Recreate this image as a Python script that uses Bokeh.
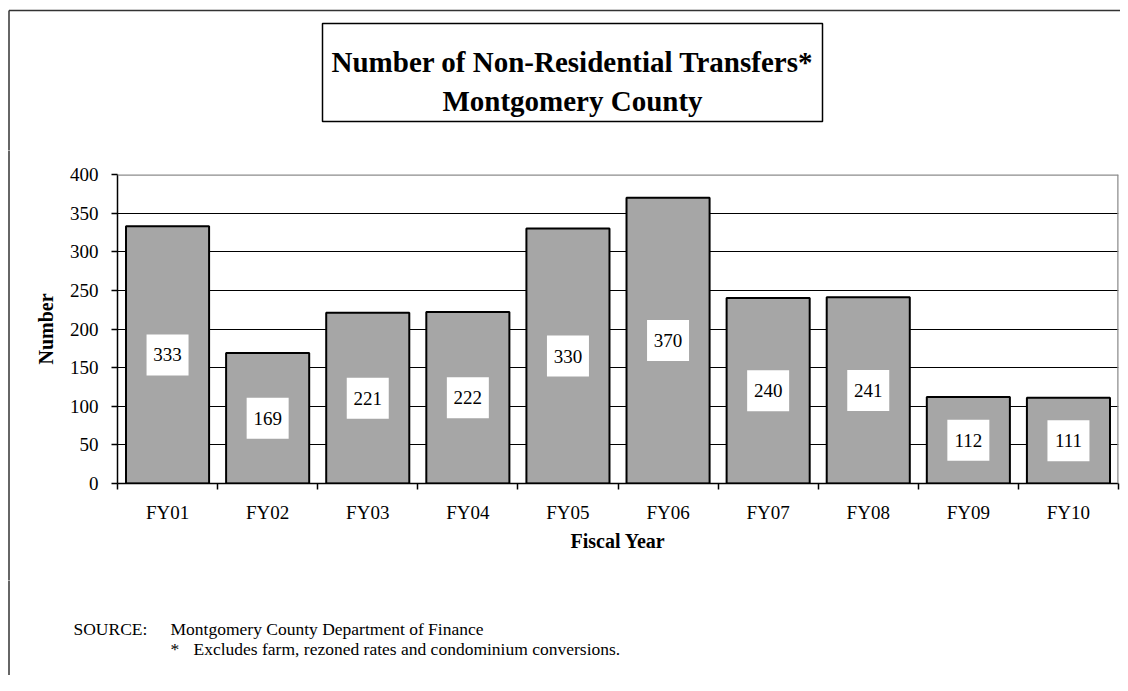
from bokeh.plotting import figure
from bokeh.layouts import row, column
from bokeh.models import Range1d, FixedTicker, Span, ColumnDataSource
from bokeh.embed import file_html
from bokeh.resources import INLINE
from bokeh.core.properties import value

# ---- data ----
categories = ["FY01", "FY02", "FY03", "FY04", "FY05", "FY06", "FY07", "FY08", "FY09", "FY10"]
transfers = [333, 169, 221, 222, 330, 370, 240, 241, 112, 111]
y_ticks = [0, 50, 100, 150, 200, 250, 300, 350, 400]
title_lines = ["Number of Non-Residential Transfers*", "Montgomery County"]
x_title = "Fiscal Year"
y_title = "Number"
source_label = "SOURCE:"
source_text = "Montgomery County Department of Finance"
foot_mark = "*"
foot_text = "Excludes farm, rezoned rates and condominium conversions."

# ---- layout constants (page pixels) ----
FONT = "Liberation Serif"
TOTAL_W, TOTAL_H = 1120, 675
STRIP_W = 20
TOP_H = 150
MAIN_H = 430
BOT_H = TOTAL_H - TOP_H - MAIN_H
FRAME_COLOR = "#333333"
FRAME_X, FRAME_Y = 8.5, 10
EXT = 6  # extend frame segments past panel edges so they join seamlessly


def blank(width, height, x0, x1, y0, y1):
    f = figure(width=width, height=height, x_range=Range1d(x0, x1), y_range=Range1d(y1, y0),
               x_axis_type=None, y_axis_type=None, output_backend="svg", toolbar_location=None,
               min_border=0, min_border_left=0, min_border_right=0, min_border_top=0,
               min_border_bottom=0, background_fill_color="white", border_fill_color="white")
    f.outline_line_color = None
    f.grid.visible = False
    return f


# ---- top: outer frame corner + title box ----
top = blank(TOTAL_W, TOP_H, 0, TOTAL_W, 0, TOP_H)
top.segment(x0=[FRAME_X, FRAME_X], y0=[FRAME_Y, FRAME_Y], x1=[TOTAL_W + EXT, FRAME_X],
            y1=[FRAME_Y, TOP_H + EXT], line_color=FRAME_COLOR, line_width=1.5)
top.quad(left=[322], right=[822], top=[23], bottom=[121], fill_color=None,
         line_color="black", line_width=1.5)
top.text(x=[572, 572], y=[61.5, 100], text=title_lines, text_align="center",
         text_baseline="alphabetic", text_font=value(FONT), text_font_style="bold",
         text_font_size="29px", text_color="black")

# ---- middle-left strip: outer frame left edge ----
strip = blank(STRIP_W, MAIN_H, 0, STRIP_W, TOP_H, TOP_H + MAIN_H)
strip.segment(x0=[FRAME_X], y0=[TOP_H - EXT], x1=[FRAME_X], y1=[TOP_H + MAIN_H + EXT],
              line_color=FRAME_COLOR, line_width=1.5)

# ---- main chart ----
FL, FR = 117 - STRIP_W, 2
FT = 174 - TOP_H
FB = MAIN_H - (483 - TOP_H)

centers = [i + 0.5 for i in range(len(categories))]
bounds = list(range(len(categories) + 1))
src = ColumnDataSource(dict(
    x=centers,
    top=transfers,
    mid=[v / 2 for v in transfers],
    label=[str(v) for v in transfers],
))

p = figure(width=TOTAL_W - STRIP_W, height=MAIN_H, x_range=Range1d(0, len(categories)),
           y_range=Range1d(y_ticks[0], y_ticks[-1]),
           output_backend="svg", toolbar_location=None,
           min_border_left=FL, min_border_top=FT, min_border_right=FR, min_border_bottom=FB,
           background_fill_color="white", border_fill_color="white")
p.outline_line_color = None
p.xgrid.visible = False
p.ygrid.ticker = FixedTicker(ticks=y_ticks)
p.ygrid.grid_line_color = "black"
p.ygrid.grid_line_width = 1

p.vbar(x="x", top="top", bottom=0, width=0.83, source=src,
       fill_color="#a6a6a6", line_color="black", line_width=2)
p.rect(x="x", y="mid", width=42, height=41, width_units="screen", height_units="screen",
       source=src, fill_color="white", line_color=None)
p.text(x="x", y="mid", text="label", source=src, text_align="center", text_baseline="middle",
       text_font=value(FONT), text_font_size="19px", text_color="black")

p.add_layout(Span(location=y_ticks[-1], dimension="width", line_color="#8c8c8c", line_width=2.5))
p.add_layout(Span(location=len(categories), dimension="height", line_color="#8c8c8c", line_width=2.5))

ya = p.yaxis[0]
ya.ticker = FixedTicker(ticks=y_ticks)
ya.axis_label = y_title
ya.axis_label_text_font = FONT
ya.axis_label_text_font_style = "bold"
ya.axis_label_text_font_size = "20px"
ya.axis_label_text_color = "black"
ya.axis_label_standoff = 10
ya.major_label_text_font = FONT
ya.major_label_text_font_size = "19px"
ya.major_label_text_color = "black"
ya.major_label_standoff = 13
ya.axis_line_color = "black"
ya.axis_line_width = 1.5
ya.major_tick_line_color = "black"
ya.major_tick_line_width = 1.5
ya.major_tick_out = 6
ya.major_tick_in = 0
ya.minor_tick_out = 0
ya.minor_tick_in = 0

xa = p.xaxis[0]
xa.ticker = FixedTicker(ticks=centers, minor_ticks=bounds)
xa.major_label_overrides = {c: cat for c, cat in zip(centers, categories)}
xa.axis_label = x_title
xa.axis_label_text_font = FONT
xa.axis_label_text_font_style = "bold"
xa.axis_label_text_font_size = "20px"
xa.axis_label_text_color = "black"
xa.axis_label_standoff = 4
xa.major_label_text_font = FONT
xa.major_label_text_font_size = "19px"
xa.major_label_text_color = "black"
xa.major_label_standoff = 12
xa.axis_line_color = "black"
xa.axis_line_width = 1.5
xa.major_tick_out = 0
xa.major_tick_in = 0
xa.minor_tick_out = 6
xa.minor_tick_in = 0
xa.minor_tick_line_color = "black"
xa.minor_tick_line_width = 1.5

# ---- bottom: outer frame left edge + source / footnote ----
y_base = TOP_H + MAIN_H
bot = blank(TOTAL_W, BOT_H, 0, TOTAL_W, y_base, TOTAL_H)
bot.segment(x0=[FRAME_X], y0=[y_base - EXT], x1=[FRAME_X], y1=[TOTAL_H + EXT],
            line_color=FRAME_COLOR, line_width=1.5)
bot.text(x=[73, 170, 170, 193], y=[628, 628, 648, 648],
         text=[source_label, source_text, foot_mark, foot_text],
         text_align="left", text_baseline="alphabetic", text_font=value(FONT),
         text_font_size="17.5px", text_color="black")

layout = column(top, row(strip, column(p, spacing=0), spacing=0), bot, spacing=0)

open("out.html", "w").write(file_html(layout, INLINE))
